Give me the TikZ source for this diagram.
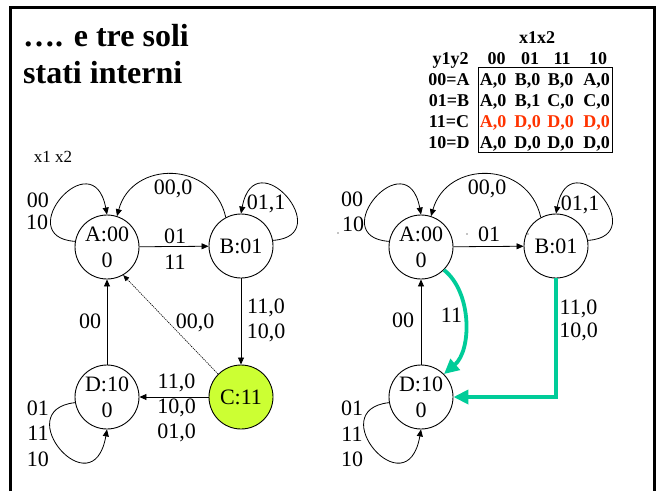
\documentclass[tikz,border=0pt]{standalone}
\usepackage{fontspec}
\setmainfont{Liberation Serif}
\usetikzlibrary{arrows.meta}
\definecolor{limefill}{HTML}{CCFF33}
\definecolor{tealgreen}{HTML}{00CC99}
\definecolor{tabred}{HTML}{FF3300}
\begin{document}
\begin{tikzpicture}[x=1pt,y=-1pt,
  state/.style={circle,draw,line width=0.9pt,minimum size=64pt,inner sep=0pt,align=center,font=\fontsize{22}{26}\selectfont},
  lab/.style={inner sep=0pt,text height=15pt,text depth=0pt,font=\fontsize{22}{26}\selectfont},
  small/.style={inner sep=0pt,text height=11.5pt,text depth=0pt,font=\fontsize{17}{20}\selectfont},
  tb/.style={inner sep=0pt,text height=12.2pt,text depth=0pt,font=\fontsize{18}{21}\bfseries\selectfont},
  tbr/.style={tb,text=tabred},
  ttl/.style={inner sep=0pt,anchor=base west,font=\fontsize{32}{36}\bfseries\selectfont},
  arr/.style={draw,line width=0.8pt,-{Triangle[length=7pt,width=6pt]}},
  dotarr/.style={draw=black,line width=0.6pt,dash pattern=on 1.3pt off 0.9pt,-{Triangle[length=6pt,width=5pt]}},
  garr/.style={draw=tealgreen,line width=3.8pt,-{Triangle[length=15pt,width=14pt]}}
]
\useasboundingbox (0,0) rectangle (656,491);
% frame
\draw[line width=3pt] (10.5,491) -- (10.5,7) -- (654.5,7) -- (654.5,491);

% title
\node[ttl] (t1) at (23,46) {…. e tre soli};
\node[ttl] (t2) at (23,83) {stati interni};

% table
\node[tb] (hx) at (537,37) {x1x2};
\node[tb] (hy) at (450.5,58) {y1y2};
\node[tb] (h1) at (496.5,58) {00};
\node[tb] (h2) at (530,58) {01};
\node[tb] (h3) at (562,58) {11};
\node[tb] (h4) at (598,58) {10};
\draw[line width=0.9pt] (478,67) rectangle (612,152);
\node[tb] (rA) at (449,79) {00=A};
\node[tb] (rB) at (449,100) {01=B};
\node[tb] (rC) at (449,121) {11=C};
\node[tb] (rD) at (449,142) {10=D};
\node[tb] (a1) at (493,79) {A,0};
\node[tb] (a2) at (527.5,79) {B,0};
\node[tb] (a3) at (560.5,79) {B,0};
\node[tb] (a4) at (596.5,79) {A,0};
\node[tb] (b1) at (493,100) {A,0};
\node[tb] (b2) at (527.5,100) {B,1};
\node[tb] (b3) at (560.5,100) {C,0};
\node[tb] (b4) at (596.5,100) {C,0};
\node[tbr] (c1) at (493,121) {A,0};
\node[tbr] (c2) at (527.5,121) {D,0};
\node[tbr] (c3) at (560.5,121) {D,0};
\node[tbr] (c4) at (596.5,121) {D,0};
\node[tb] (d1) at (493,142) {A,0};
\node[tb] (d2) at (527.5,142) {D,0};
\node[tb] (d3) at (560.5,142) {D,0};
\node[tb] (d4) at (596.5,142) {D,0};

% ---------- left diagram ----------
\node[small] (x12) at (53,157) {x1 x2};
\node[state] (A) at (107,247) {A:00\\0};
\node[state] (B) at (241,246) {B:01};
\node[state,fill=limefill] (C) at (241,397) {C:11};
\node[state] (D) at (107,397) {D:10\\0};

\draw[arr] (A) -- (B);
\draw[arr] (B) -- (C);
\draw[arr] (C) -- (D);
\draw[arr] (D) -- (A);
\draw[dotarr] (C.135) -- (A.-60);
\draw[arr] (B.118) .. controls (213,160) and (132,160) .. (A.72);
\draw[arr] (A.170) .. controls (10,237) and (93,140) .. (A.north);
\draw[arr] (B.10) .. controls (338,236) and (255,139) .. (B.north);
\draw[arr] (D.190) .. controls (8,410) and (93,510) .. (D.south);

\node[lab] (lA1) at (38,200) {00};
\node[lab] (lA2) at (37,222) {10};
\node[lab] (lBA) at (173,187) {00,0};
\node[lab] (lB) at (266,202) {01,1};
\node[lab] (lAB1) at (175,236) {01};
\node[lab] (lAB2) at (175,262) {11};
\node[lab] (lDA) at (90,321) {00};
\node[lab] (lCA) at (195,321) {00,0};
\node[lab] (lBC1) at (266,306) {11,0};
\node[lab] (lBC2) at (266,331) {10,0};
\node[lab] (lCD1) at (176.5,381) {11,0};
\node[lab] (lCD2) at (176.5,406) {10,0};
\node[lab] (lCD3) at (176.5,431) {01,0};
\node[lab] (lD1) at (38,408) {01};
\node[lab] (lD2) at (38,433) {11};
\node[lab] (lD3) at (38,459) {10};

% ---------- right diagram ----------
\node[state] (A2) at (421,247) {A:00\\0};
\node[state] (B2) at (556,246) {B:01};
\node[state] (D2) at (421,397) {D:10\\0};

\draw[arr] (A2) -- (B2);
\draw[arr] (D2) -- (A2);
\draw[arr] (B2.118) .. controls (528,160) and (447,160) .. (A2.72);
\draw[arr] (A2.170) .. controls (324,237) and (407,140) .. (A2.north);
\draw[arr] (B2.10) .. controls (653,236) and (570,139) .. (B2.north);
\draw[arr] (D2.190) .. controls (322,410) and (407,510) .. (D2.south);
\draw[garr] (A2.-45) .. controls (472,292) and (472,350) .. (D2.45);
\draw[garr,line join=miter] (B2.south) |- (D2.east);

\node[lab] (rA1) at (352,199) {00};
\node[lab] (rA2) at (353,224) {10};
\node[lab] (rBA) at (487,187) {00,0};
\node[lab] (rB) at (580,203) {01,1};
\node[lab] (rAB) at (489,234) {01};
\node[lab] (rDA) at (403,320) {00};
\node[lab] (rAD) at (451.5,315) {11};
\node[lab] (rBD1) at (578.5,307) {11,0};
\node[lab] (rBD2) at (578.5,330) {10,0};
\node[lab] (rD1) at (352,408) {01};
\node[lab] (rD2) at (352,434) {11};
\node[lab] (rD3) at (352,459) {10};

% stray dots
\fill (338,233) circle (0.7);
\fill (467,234) circle (0.7);
\fill (528,234) circle (0.7);
\fill (589,234) circle (0.7);
\end{tikzpicture}
\end{document}
